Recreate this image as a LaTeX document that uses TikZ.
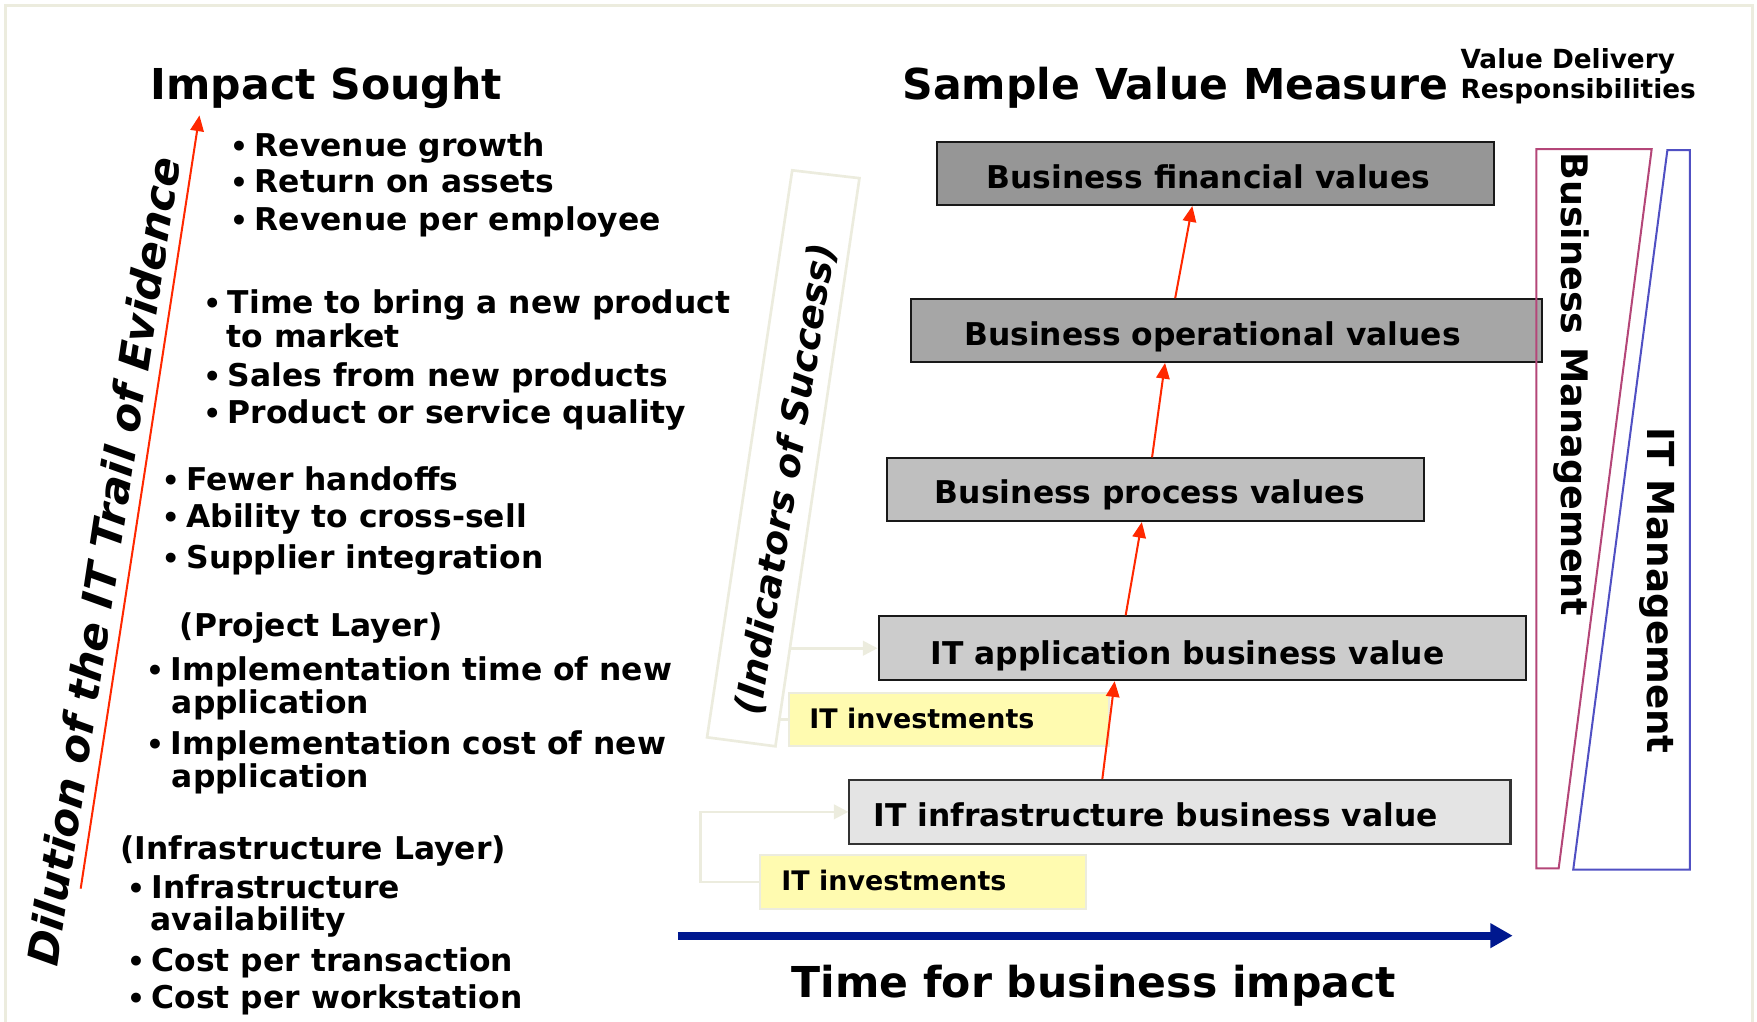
\documentclass[tikz,border=0pt]{standalone}
\usepackage{fontspec}
\setmainfont{DejaVu Sans}
\usetikzlibrary{arrows.meta,calc,fit}
\definecolor{redarr}{RGB}{255,40,0}
\definecolor{navyarr}{RGB}{0,24,143}
\definecolor{pale}{RGB}{236,236,222}
\definecolor{yel}{RGB}{255,251,176}
\definecolor{bmcol}{RGB}{180,70,120}
\definecolor{itcol}{RGB}{80,80,195}
\newcommand{\mybul}{\makebox[10pt][l]{\hspace{-1pt}{\fontsize{12.5}{14}\selectfont•}}}
\begin{document}
\begin{tikzpicture}[x=0.5pt,y=-0.5pt,
  title/.style={anchor=base west,inner sep=0pt,font=\fontsize{19}{22}\selectfont\bfseries},
  item/.style={anchor=base west,inner sep=0pt,font=\fontsize{14}{16}\selectfont\bfseries},
  small/.style={anchor=base west,inner sep=0pt,font=\fontsize{11.75}{14}\selectfont\bfseries},
  invtext/.style={anchor=base west,inner sep=0pt,font=\fontsize{12}{14}\selectfont\bfseries},
  vbox/.style={draw=black!90,line width=0.9pt,inner sep=0pt},
  invbox/.style={fill=yel,draw=pale,line width=0.9pt,inner sep=0pt},
  redarrow/.style={draw=redarr,line width=0.9pt,-{Triangle[length=7pt,width=6pt]},fill=redarr},
  palearrow/.style={draw=pale,line width=1.2pt,-{Triangle[length=6.5pt,width=6.5pt]}},
]
\useasboundingbox (0,0) rectangle (1568,912);
\draw[pale,line width=1.2pt] (5,912) -- (5,5) -- (1564,5) -- (1564,912);

% titles
\node[title] (t-impact) at (134,89) {Impact Sought};
\node[title] (t-sample) at (805,89) {Sample Value Measure};
\node[small] (t-vd) at (1303,61) {Value Delivery};
\node[small] (t-resp) at (1303,88) {Responsibilities};
\node[title] (t-time) at (706,890) {Time for business impact};

% left bullets
\node[item] (i1) at (207,140) {\mybul Revenue growth};
\node[item] (i2) at (207,172) {\mybul Return on assets};
\node[item] (i3) at (207,206) {\mybul Revenue per employee};
\node[item] (i4) at (183,280) {\mybul Time to bring a new product};
\node[item] (i5) at (202,310) {to market};
\node[item] (i6) at (183,345) {\mybul Sales from new products};
\node[item] (i7) at (183,378) {\mybul Product or service quality};
\node[item] (i8) at (146,438) {\mybul Fewer handoffs};
\node[item] (i9) at (146,471) {\mybul Ability to cross-sell};
\node[item] (i10) at (146,507) {\mybul Supplier integration};
\node[item] (i11) at (160,568) {(Project Layer)};
\node[item] (i12) at (132,607) {\mybul Implementation time of new};
\node[item] (i13) at (153,637) {application};
\node[item] (i14) at (132,673) {\mybul Implementation cost of new};
\node[item] (i15) at (153,703) {application};
\node[item] (i16) at (107,767) {(Infrastructure Layer)};
\node[item] (i17) at (115,802) {\mybul Infrastructure};
\node[item] (i18) at (134,830) {availability};
\node[item] (i19) at (115,867) {\mybul Cost per transaction};
\node[item] (i20) at (115,900) {\mybul Cost per workstation};

% dilution arrow and text
\coordinate (dil-s) at (72,793);
\coordinate (dil-e) at (178,103);
\draw[redarrow] (dil-s) -- (dil-e);
\node[rotate=81.3,inner sep=0pt,font=\fontsize{19}{22}\selectfont\bfseries\itshape] (dil) at (92,501) {Dilution of the IT Trail of Evidence};

% indicators of success
\coordinate (ind1) at (707,152);
\coordinate (ind2) at (767,159);
\coordinate (ind3) at (692,666);
\coordinate (ind4) at (631,658);
\draw[pale,line width=1.2pt] (ind1) -- (ind2) -- (ind3) -- (ind4) -- cycle;
\node[rotate=81,inner sep=0pt,font=\fontsize{16.5}{20}\selectfont\bfseries\itshape] (ind) at (702,428) {(Indicators of Success)};

% value boxes
\node[vbox,fill={rgb,255:red,150;green,150;blue,150},fit={(836,127) (1333,183)}] (fin) {};
\node[vbox,fill={rgb,255:red,166;green,166;blue,166},fit={(813,267) (1376,323)}] (op) {};
\node[vbox,fill={rgb,255:red,191;green,191;blue,191},fit={(792,409) (1271,465)}] (proc) {};
\node[vbox,fill={rgb,255:red,204;green,204;blue,204},fit={(784,550) (1362,607)}] (app) {};
\node[vbox,draw=black!80,fill={rgb,255:red,228;green,228;blue,228},fit={(758,696) (1348,753)}] (infra) {};
\node[item] (fin-l) at (880,168) {Business financial values};
\node[item] (op-l) at (860,308) {Business operational values};
\node[item] (proc-l) at (834,449) {Business process values};
\node[item] (app-l) at (830,593) {IT application business value};
\node[item] (infra-l) at (779,738) {IT infrastructure business value};

% investments
\node[invbox,fit={(704,618) (990,666)}] (inv1) {};
\node[invbox,fit={(678,763) (969,811)}] (inv2) {};
\node[invtext] (inv1-l) at (722,650) {IT investments};
\node[invtext] (inv2-l) at (697,795) {IT investments};

% pale connectors
\coordinate (indr) at ($(ind2)!0.8274!(ind3)$);
\draw[palearrow] (indr) -- (indr -| app.west);
\coordinate (indr2) at ($(ind2)!0.9527!(ind3)$);
\draw[pale,line width=1.2pt] (indr2) -- (indr2 -| inv1.west);
\draw[palearrow] (inv2.west) -- ++(-52,0) |- (infra.west);

% red arrows between boxes
\draw[redarrow] ($(op.north west)!0.419!(op.north east)$) -- ($(fin.south west)!0.459!(fin.south east)$);
\draw[redarrow] ($(proc.north west)!0.493!(proc.north east)$) -- ($(op.south west)!0.403!(op.south east)$);
\draw[redarrow] ($(app.north west)!0.382!(app.north east)$) -- ($(proc.south west)!0.474!(proc.south east)$);
\draw[redarrow] ($(infra.north west)!0.383!(infra.north east)$) -- ($(app.south west)!0.365!(app.south east)$);

% time arrow
\coordinate (t0) at (605,835);
\coordinate (t1) at (1350,835);
\draw[navyarr,line width=3.5pt,-{Triangle[length=10pt,width=10.5pt]}] (t0) -- (t1);

% responsibilities
\draw[bmcol,line width=0.9pt] (1371,133) -- (1474,133) -- (1391,775) -- (1371,775) -- cycle;
\draw[itcol,line width=0.9pt] (1488,134) -- (1508,134) -- (1508,776) -- (1404,776) -- cycle;
\node[rotate=-90,inner sep=0pt,font=\fontsize{16.3}{20}\selectfont\bfseries] (bm) at (1402,343) {Business Management};
\node[rotate=-90,inner sep=0pt,font=\fontsize{16.6}{20}\selectfont\bfseries] (itm) at (1479,527) {IT Management};
\end{tikzpicture}
\end{document}
